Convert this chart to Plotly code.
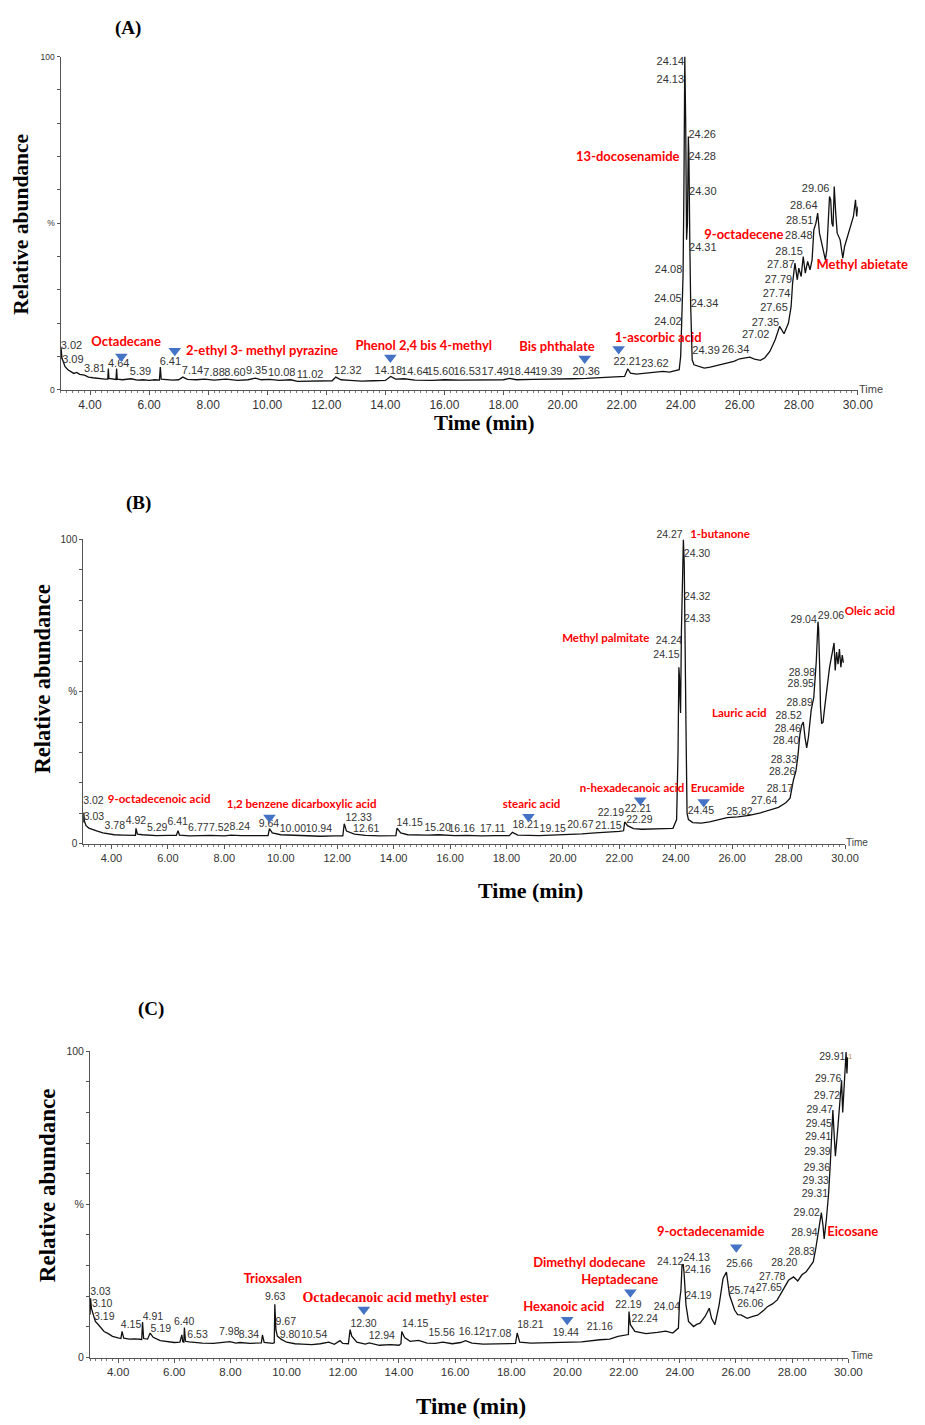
import plotly.graph_objects as go

# ---------------- Panel A data ----------------
a_time = [3.00, 3.02, 3.05, 3.09, 3.15, 3.25, 3.35, 3.45, 3.55, 3.65, 3.81, 3.95, 4.10, 4.30, 4.50, 4.60,
          4.62, 4.64, 4.80, 4.88, 4.90, 4.92, 5.10, 5.39, 5.60, 5.80, 6.00, 6.20, 6.35, 6.38, 6.41, 6.60,
          6.80, 7.00, 7.14, 7.30, 7.60, 7.88, 8.20, 8.60, 9.00, 9.35, 9.60, 9.80, 10.08, 10.40, 10.80, 11.02,
          11.40, 11.80, 12.20, 12.32, 12.50, 12.80, 13.20, 13.60, 14.00, 14.18, 14.35, 14.64, 15.00, 15.60,
          16.00, 16.53, 17.00, 17.49, 18.00, 18.20, 18.44, 19.00, 19.39, 19.80, 20.36, 20.80, 21.20, 21.60,
          21.95, 22.10, 22.21, 22.30, 22.50, 22.80, 23.10, 23.40, 23.62, 23.80, 23.95, 24.00, 24.02, 24.05,
          24.08, 24.11, 24.13, 24.14, 24.17, 24.20, 24.23, 24.26, 24.28, 24.30, 24.31, 24.34, 24.37, 24.39,
          24.45, 24.60, 24.80, 25.00, 25.20, 25.40, 25.60, 25.80, 26.00, 26.20, 26.34, 26.50, 26.70, 26.85,
          27.02, 27.20, 27.35, 27.50, 27.65, 27.74, 27.79, 27.87, 27.95, 28.00, 28.08, 28.15, 28.22, 28.30,
          28.38, 28.45, 28.48, 28.51, 28.58, 28.64, 28.70, 28.80, 28.90, 28.95, 29.00, 29.04, 29.08, 29.12,
          29.16, 29.20, 29.25, 29.30, 29.40, 29.49, 29.55, 29.65, 29.75, 29.85, 29.92, 29.96, 30.00]
a_abund = [9.0, 12.5, 9.5, 8.5, 7.0, 6.0, 5.4, 4.9, 5.2, 4.6, 4.4, 3.8, 3.6, 3.3, 3.2, 3.2,
           6.4, 3.4, 3.1, 3.1, 6.4, 3.2, 3.0, 3.3, 2.9, 3.0, 2.8, 3.0, 2.9, 6.8, 3.2, 3.0,
           2.9, 3.0, 3.8, 3.1, 3.0, 3.2, 2.9, 3.2, 2.8, 3.0, 3.5, 3.0, 3.1, 2.8, 3.0, 2.5,
           2.6, 2.7, 2.7, 3.8, 3.0, 2.8, 2.6, 2.7, 2.8, 4.0, 3.2, 3.3, 2.9, 2.8,
           3.0, 2.9, 2.9, 3.0, 3.0, 3.4, 3.0, 3.1, 3.1, 3.3, 3.3, 3.4, 3.6, 3.8,
           3.9, 4.0, 6.3, 5.0, 4.7, 4.9, 5.1, 5.5, 5.3, 5.6, 6.0, 10.0, 16.0, 25.0,
           34.0, 60.0, 85.0, 100.0, 80.0, 45.0, 50.0, 76.0, 70.0, 60.0, 44.0, 25.0, 12.0, 9.0,
           7.5, 7.0, 6.5, 6.8, 7.2, 7.8, 8.0, 8.5, 9.3, 9.5, 9.8, 9.2, 8.8, 9.6,
           11.5, 15.0, 19.0, 16.8, 20.0, 25.0, 32.0, 38.0, 33.0, 36.5, 34.0, 40.0, 35.0, 38.5,
           36.0, 39.0, 45.0, 48.0, 50.0, 53.0, 47.0, 43.0, 39.0, 42.0, 52.0, 58.0, 57.0, 50.0,
           49.0, 61.0, 53.0, 47.0, 45.0, 39.5, 43.0, 46.0, 49.0, 52.0, 57.0, 52.0, 55.0]

a_rt_text = ["3.02", "3.09", "3.81", "4.64", "5.39", "6.41", "7.14", "7.88", "8.60", "9.35", "10.08",
             "11.02", "12.32", "14.18", "14.64", "15.60", "16.53", "17.49", "18.44", "19.39", "20.36",
             "22.21", "23.62", "24.02", "24.05", "24.08", "24.13", "24.14", "24.26", "24.28", "24.30",
             "24.31", "24.34", "24.39", "26.34", "27.02", "27.35", "27.65", "27.74", "27.79", "27.87",
             "28.15", "28.48", "28.51", "28.64", "29.06"]
a_rt_x = [3.37, 3.42, 4.16, 4.97, 5.71, 6.72, 7.47, 8.20, 8.91, 9.64, 10.49,
          11.45, 12.73, 14.10, 15.00, 15.87, 16.77, 17.72, 18.64, 19.53, 20.80,
          22.19, 23.13, 23.57, 23.57, 23.59, 23.65, 23.65, 24.73, 24.73, 24.75,
          24.75, 24.81, 24.86, 25.86, 26.54, 26.87, 27.16, 27.25, 27.31, 27.39,
          27.67, 28.00, 28.03, 28.17, 28.57]
a_rt_y = [13.2, 8.7, 6.0, 7.5, 5.3, 8.2, 5.6, 4.9, 4.9, 5.6, 4.9,
          4.3, 5.5, 5.5, 5.2, 5.2, 5.2, 5.2, 5.2, 5.2, 5.3,
          8.2, 7.5, 20.4, 27.2, 35.8, 92.8, 98.3, 76.5, 69.8, 59.4,
          42.5, 25.6, 11.7, 12.0, 16.3, 20.1, 24.4, 28.7, 32.8, 37.5,
          41.3, 46.0, 50.5, 55.0, 60.3]

a_cmp_text = ["Octadecane", "2-ethyl 3- methyl pyrazine", "Phenol 2,4 bis 4-methyl", "Bis phthalate",
              "1-ascorbic acid", "13-docosenamide", "9-octadecene", "Methyl abietate"]
a_cmp_x = [5.22, 9.82, 15.30, 19.81, 23.24, 22.21, 26.14, 28.60]
a_cmp_y = [14.0, 11.4, 12.8, 12.7, 15.2, 69.5, 46.2, 37.3]

a_tri_x = [5.06, 6.87, 14.17, 20.75, 21.90]
a_tri_y = [10.0, 11.7, 9.7, 9.4, 12.2]

# ---------------- Panel B data ----------------
b_time = [3.00, 3.02, 3.04, 3.10, 3.20, 3.35, 3.50, 3.70, 3.90, 4.10, 4.40, 4.70, 4.85, 4.87, 4.92, 5.10,
          5.29, 5.60, 6.00, 6.30, 6.36, 6.41, 6.77, 7.20, 7.52, 8.00, 8.24, 8.60, 9.00, 9.40, 9.55, 9.60,
          9.70, 10.00, 10.40, 10.94, 11.40, 11.90, 12.20, 12.25, 12.33, 12.61, 13.00, 13.50, 14.00, 14.08,
          14.12, 14.25, 14.50, 15.00, 15.20, 15.60, 16.16, 16.60, 17.11, 17.60, 18.10, 18.21, 18.40, 18.80,
          19.15, 19.60, 20.00, 20.67, 21.15, 21.60, 22.00, 22.15, 22.19, 22.29, 22.50, 22.80, 23.20, 23.60,
          23.90, 24.03, 24.08, 24.11, 24.13, 24.15, 24.17, 24.20, 24.24, 24.27, 24.30, 24.32, 24.33, 24.36,
          24.40, 24.45, 24.60, 24.90, 25.20, 25.50, 25.82, 26.20, 26.60, 27.00, 27.30, 27.64, 27.90, 28.05,
          28.17, 28.26, 28.33, 28.40, 28.46, 28.52, 28.58, 28.64, 28.70, 28.80, 28.89, 28.95, 28.98, 29.04,
          29.06, 29.10, 29.13, 29.17, 29.22, 29.28, 29.38, 29.45, 29.55, 29.61, 29.65, 29.70, 29.75, 29.80,
          29.85, 29.90, 29.94]
b_abund = [7.0, 10.3, 7.5, 6.0, 5.2, 4.6, 4.2, 3.6, 3.3, 3.0, 2.9, 2.8, 2.8, 5.1, 3.2, 3.0,
           2.9, 2.7, 2.8, 2.8, 4.3, 2.9, 2.6, 2.7, 2.8, 2.6, 2.9, 2.7, 2.7, 2.6, 2.7, 5.0,
           3.6, 3.0, 2.8, 2.6, 2.5, 2.6, 2.6, 6.6, 4.2, 3.2, 2.8, 2.6, 2.5, 2.7,
           5.2, 3.6, 3.0, 2.8, 2.9, 3.0, 2.7, 2.8, 2.6, 2.7, 2.7, 3.8, 2.9, 2.8,
           2.7, 2.9, 3.0, 3.3, 3.6, 3.8, 4.1, 4.3, 7.2, 6.0, 5.0, 4.8, 4.8, 5.0,
           5.1, 8.0, 30.0, 58.0, 55.0, 48.0, 43.0, 70.0, 93.0, 100.0, 92.0, 80.0, 73.0, 40.0,
           10.0, 8.0, 7.0, 6.8, 7.2, 7.8, 8.6, 8.9, 9.4, 10.2, 11.0, 12.0, 13.5, 15.0,
           21.0, 24.0, 29.0, 36.0, 39.0, 40.0, 35.0, 31.5, 35.0, 44.0, 48.0, 55.0, 60.0, 73.0,
           71.0, 58.0, 45.0, 39.5, 40.0, 45.0, 53.0, 58.0, 63.0, 66.0, 57.0, 63.0, 59.0, 64.0,
           58.0, 62.0, 59.5]

b_rt_text = ["3.02", "3.03", "3.78", "4.92", "5.29", "6.41", "6.77", "7.52", "8.24", "9.64", "10.00",
             "10.94", "12.33", "12.61", "14.15", "15.20", "16.16", "17.11", "18.21", "19.15", "20.67",
             "21.15", "22.19", "22.21", "22.29", "24.15", "24.24", "24.27", "24.30", "24.32", "24.33",
             "24.45", "25.82", "27.64", "28.17", "28.26", "28.33", "28.40", "28.46", "28.52", "28.89",
             "28.95", "28.98", "29.04", "29.06"]
b_rt_x = [3.36, 3.38, 4.12, 4.87, 5.62, 6.35, 7.08, 7.82, 8.55, 9.58, 10.43,
          11.35, 12.76, 13.03, 14.57, 15.56, 16.41, 17.51, 18.68, 19.64, 20.62,
          21.61, 21.70, 22.66, 22.71, 23.67, 23.76, 23.78, 24.75, 24.76, 24.76,
          24.89, 26.26, 27.13, 27.69, 27.77, 27.83, 27.91, 27.97, 28.00, 28.39,
          28.43, 28.47, 28.53, 29.50]
b_rt_y = [14.1, 8.7, 5.6, 7.3, 5.1, 7.1, 5.1, 5.1, 5.4, 6.5, 4.9,
          4.9, 8.4, 4.7, 6.7, 5.0, 4.9, 4.9, 6.2, 4.7, 6.0,
          5.6, 10.0, 11.4, 7.6, 61.9, 66.4, 99.5, 95.2, 80.9, 73.8,
          10.8, 10.3, 14.1, 17.9, 23.4, 27.4, 33.6, 37.7, 41.8, 46.2,
          52.3, 56.1, 73.5, 74.6]

b_cmp_text = ["9-octadecenoic acid", "1,2 benzene dicarboxylic acid", "stearic acid", "n-hexadecanoic acid",
              "Erucamide", "Methyl palmitate", "1-butanone", "Lauric acid", "Oleic acid"]
b_cmp_x = [5.69, 10.74, 18.89, 22.45, 25.49, 21.52, 25.57, 26.25, 29.99]
b_cmp_y = [14.4, 12.8, 12.8, 17.9, 17.9, 67.3, 99.5, 42.6, 76.0]

b_tri_x = [9.60, 18.78, 22.74, 24.99]
b_tri_y = [8.7, 8.9, 14.3, 13.8]

# ---------------- Panel C data ----------------
c_time = [3.00, 3.02, 3.05, 3.10, 3.15, 3.19, 3.30, 3.40, 3.50, 3.65, 3.80, 4.00, 4.10, 4.14, 4.20, 4.40,
          4.60, 4.84, 4.87, 4.91, 5.05, 5.14, 5.25, 5.50, 5.80, 6.00, 6.20, 6.27, 6.30, 6.34, 6.36, 6.40,
          6.53, 6.80, 7.00, 7.40, 7.80, 7.98, 8.20, 8.34, 8.70, 9.10, 9.14, 9.20, 9.50, 9.56, 9.58, 9.62,
          9.67, 9.80, 10.00, 10.30, 10.54, 10.90, 11.20, 11.50, 11.70, 11.90, 12.00, 12.20, 12.26, 12.32,
          12.50, 12.80, 12.94, 13.30, 13.70, 14.00, 14.07, 14.10, 14.20, 14.40, 14.70, 15.00, 15.30, 15.56,
          15.90, 16.20, 16.37, 16.60, 17.00, 17.50, 18.15, 18.21, 18.30, 18.70, 19.20, 19.60, 20.00, 20.50,
          21.16, 21.50, 21.80, 22.10, 22.17, 22.19, 22.24, 22.40, 22.80, 23.20, 23.50, 23.75, 23.95, 23.99,
          24.04, 24.08, 24.12, 24.15, 24.19, 24.22, 24.31, 24.49, 24.60, 24.72, 24.90, 25.05, 25.13, 25.25,
          25.40, 25.54, 25.66, 25.77, 25.95, 26.06, 26.18, 26.40, 26.60, 26.77, 27.00, 27.12, 27.30, 27.47,
          27.64, 27.76, 27.87, 28.05, 28.20, 28.35, 28.50, 28.58, 28.70, 28.75, 28.84, 28.96, 29.04, 29.10,
          29.14, 29.22, 29.30, 29.36, 29.39, 29.45, 29.50, 29.54, 29.63, 29.71, 29.76, 29.80, 29.86, 29.92,
          29.95, 29.98]
c_abund = [14.0, 19.3, 16.0, 14.5, 12.5, 11.8, 10.7, 9.6, 8.5, 7.8, 6.9, 6.4, 6.2, 8.5, 6.3, 6.0,
           6.1, 5.9, 11.6, 6.2, 6.0, 8.0, 6.6, 5.5, 5.2, 4.9, 5.0, 7.4, 5.2, 5.0, 9.8, 5.3,
           5.1, 4.8, 4.7, 4.6, 4.9, 5.2, 4.7, 4.9, 4.6, 4.8, 7.4, 4.9, 4.6, 4.8, 17.4, 9.0,
           7.0, 6.0, 5.0, 4.5, 4.4, 4.2, 4.5, 5.0, 4.3, 5.5, 4.6, 4.5, 9.1, 7.0,
           5.0, 4.4, 4.8, 4.0, 4.2, 4.0, 4.5, 8.5, 6.5, 5.3, 5.6, 4.7, 4.6, 5.0,
           4.5, 4.9, 5.5, 4.7, 4.4, 4.5, 4.6, 8.0, 5.0, 4.7, 4.8, 4.7, 5.0, 5.1,
           5.8, 6.0, 6.9, 7.3, 7.5, 15.0, 10.7, 8.5, 7.8, 8.2, 8.6, 8.0, 9.6, 18.2,
           22.0, 30.1, 30.5, 27.9, 20.0, 17.2, 11.8, 10.1, 10.8, 11.2, 13.4, 16.1, 12.8, 10.7,
           17.2, 25.8, 27.9, 20.4, 15.5, 14.0, 13.9, 12.8, 13.4, 13.8, 15.5, 16.6, 17.5, 18.8,
           21.5, 23.6, 25.2, 26.3, 25.0, 27.0, 28.0, 29.0, 30.5, 31.2, 35.5, 43.0, 47.3, 43.0,
           38.7, 45.2, 53.8, 63.5, 70.0, 80.8, 72.0, 65.7, 75.4, 86.2, 90.5, 80.0, 91.0, 99.7,
           92.7, 98.0]

c_rt_text = ["3.03", "3.10", "3.19", "4.15", "4.91", "5.19", "6.40", "6.53", "7.98", "8.34", "9.63",
             "9.67", "9.80", "10.54", "12.30", "12.94", "14.15", "15.56", "16.12", "17.08", "18.21",
             "19.44", "21.16", "22.19", "22.24", "24.04", "24.12", "24.13", "24.16", "24.19", "25.66",
             "25.74", "26.06", "27.65", "27.78", "28.20", "28.83", "28.94", "29.02", "29.31", "29.33",
             "29.36", "29.39", "29.41", "29.45", "29.47", "29.72", "29.76", "29.91"]
c_rt_x = [3.37, 3.43, 3.51, 4.46, 5.24, 5.52, 6.35, 6.83, 7.96, 8.66, 9.59,
          9.97, 10.12, 10.98, 12.74, 13.39, 14.58, 15.52, 16.60, 17.53, 18.68,
          19.94, 21.15, 22.17, 22.75, 23.54, 23.66, 24.60, 24.64, 24.66, 26.12,
          26.21, 26.51, 27.17, 27.29, 27.72, 28.34, 28.44, 28.52, 28.81, 28.84,
          28.88, 28.90, 28.93, 28.95, 28.98, 29.24, 29.28, 29.43]
c_rt_y = [21.3, 17.4, 13.2, 10.5, 13.2, 9.1, 11.6, 7.2, 8.2, 7.2, 19.5,
          11.6, 7.2, 7.2, 10.9, 6.9, 10.9, 8.0, 8.3, 7.4, 10.5,
          8.0, 9.8, 16.9, 12.3, 16.3, 31.2, 32.5, 28.5, 20.1, 30.3,
          21.7, 17.2, 22.6, 26.3, 30.8, 34.4, 40.6, 47.0, 53.3, 57.6,
          61.7, 67.1, 71.8, 76.1, 80.8, 85.3, 90.8, 97.8]

c_cmp_text = ["Trioxsalen", "Hexanoic acid", "Heptadecane", "Dimethyl dodecane", "9-octadecenamide", "Eicosane"]
c_cmp_x = [9.51, 19.87, 21.86, 20.78, 25.10, 29.25]
c_cmp_y = [25.5, 16.1, 24.9, 30.6, 40.6, 40.6]

c_serif_text = ["Octadecanoic acid methyl ester"]
c_serif_x = [13.88]
c_serif_y = [19.3]

c_tri_x = [12.75, 19.99, 22.24, 26.01]
c_tri_y = [15.7, 12.3, 21.3, 36.0]

c_scan_text = ["1"]
c_scan_x = [29.99]
c_scan_y = [98.0]

x_tick_vals = list(range(4, 31))
x_tick_text = [f"{v:.2f}" if v % 2 == 0 else "" for v in x_tick_vals]
y_tick_vals = list(range(0, 101, 10))
y_tick_text = ["0", "", "", "", "", "%", "", "", "", "", "100"]

# ---------------- styling / layout ----------------
W, H = 925, 1425
boxes = {  # pixel boxes: (left, right, top, bottom)
    "A": (61.5, 872.0, 51.0, 387.0),
    "B": (84.6, 859.0, 538.0, 845.0),
    "C": (91.5, 862.3, 1054.0, 1363.0),
}

SANS = "Liberation Sans, Arial, sans-serif"
SERIF = "Liberation Serif, Times New Roman, serif"
BOLD_SANS = "Lato, Open Sans, sans-serif"
RED = "#FF0000"
BLUE = "#4472C4"

# label anchoring (labels at the plot edges are anchored by their left or bottom side)
a_cmp_pos = ["middle center"] * 7 + ["middle right"]
b_cmp_pos = ["middle center"] * 6 + ["top center", "middle center", "middle right"]
c_cmp_pos = ["middle center"] * 5 + ["middle right"]
b_rt_pos = ["middle center"] * len(b_rt_text)
b_rt_pos[b_rt_text.index("24.27")] = "top center"
a_rt_pos = ["middle center"] * len(a_rt_text)
c_rt_pos = ["middle center"] * len(c_rt_text)

fig = go.Figure()

panels = [
    ("", a_time, a_abund, a_rt_text, a_rt_x, a_rt_y, a_rt_pos, a_cmp_text, a_cmp_x, a_cmp_y, a_cmp_pos,
     a_tri_x, a_tri_y, 11, 13),
    ("2", b_time, b_abund, b_rt_text, b_rt_x, b_rt_y, b_rt_pos, b_cmp_text, b_cmp_x, b_cmp_y, b_cmp_pos,
     b_tri_x, b_tri_y, 10.5, 11.5),
    ("3", c_time, c_abund, c_rt_text, c_rt_x, c_rt_y, c_rt_pos, c_cmp_text, c_cmp_x, c_cmp_y, c_cmp_pos,
     c_tri_x, c_tri_y, 10.5, 13),
]

for (suf, t, ab, rtt, rtx, rty, rtp, ct, cx, cy, cp, tx, ty, rtsize, cmpsize) in panels:
    xa, ya = "x" + suf, "y" + suf
    fig.add_trace(go.Scatter(x=t, y=ab, mode="lines", xaxis=xa, yaxis=ya,
                             line=dict(color="#111111", width=1.3), cliponaxis=False,
                             showlegend=False, hoverinfo="skip"))
    fig.add_trace(go.Scatter(x=rtx, y=rty, mode="text", text=rtt, xaxis=xa, yaxis=ya,
                             textposition=rtp, cliponaxis=False,
                             textfont=dict(family=SANS, size=rtsize, color="#333333"),
                             showlegend=False, hoverinfo="skip"))
    fig.add_trace(go.Scatter(x=cx, y=cy, mode="text", text=ct, xaxis=xa, yaxis=ya,
                             textposition=cp, cliponaxis=False,
                             textfont=dict(family=BOLD_SANS, size=cmpsize, color=RED, weight="bold"),
                             showlegend=False, hoverinfo="skip"))
    fig.add_trace(go.Scatter(x=tx, y=ty, mode="markers", xaxis=xa, yaxis=ya, cliponaxis=False,
                             marker=dict(symbol="triangle-down", size=11, color=BLUE, line=dict(width=0)),
                             showlegend=False, hoverinfo="skip"))

fig.add_trace(go.Scatter(x=c_serif_x, y=c_serif_y, mode="text", text=c_serif_text, xaxis="x3", yaxis="y3",
                         textposition="middle center", cliponaxis=False,
                         textfont=dict(family=SERIF, size=14, color=RED, weight="bold"),
                         showlegend=False, hoverinfo="skip"))
fig.add_trace(go.Scatter(x=c_scan_x, y=c_scan_y, mode="text", text=c_scan_text, xaxis="x3", yaxis="y3",
                         textposition="middle right", cliponaxis=False,
                         textfont=dict(family=SANS, size=8, color="#C09050"),
                         showlegend=False, hoverinfo="skip"))

layout = dict(width=W, height=H, autosize=False, margin=dict(l=0, r=0, t=0, b=0, pad=0),
              paper_bgcolor="white", plot_bgcolor="white", showlegend=False)

tick_sizes = {"A": (12, 8.5), "B": (11, 10), "C": (11.5, 10.5)}
minor_vals = [round(3 + 0.2 * i, 2) for i in range(0, 136)]

for name, suf in [("A", ""), ("B", "2"), ("C", "3")]:
    l, r, tp, bt = boxes[name]
    xs, ys = tick_sizes[name]
    layout["xaxis" + suf] = dict(
        domain=[l / W, r / W], range=[3, 30], anchor="y" + suf,
        showline=True, linecolor="#555555", linewidth=1, showgrid=False, zeroline=False,
        tickmode="array", tickvals=x_tick_vals, ticktext=x_tick_text,
        ticks="outside", ticklen=4, tickcolor="#555555", tickwidth=1,
        tickfont=dict(family=SANS, size=xs, color="#333333"),
        minor=dict(tickmode="array", tickvals=minor_vals, ticks="outside", ticklen=2,
                   tickcolor="#777777", tickwidth=1),
        fixedrange=True)
    layout["yaxis" + suf] = dict(
        domain=[1 - bt / H, 1 - tp / H], range=[0, 100], anchor="x" + suf,
        showline=True, linecolor="#555555", linewidth=1, showgrid=False, zeroline=False,
        tickmode="array", tickvals=y_tick_vals, ticktext=y_tick_text,
        ticks="outside", ticklen=3, tickcolor="#555555", tickwidth=1,
        tickfont=dict(family=SANS, size=ys, color="#333333"),
        fixedrange=True)


def pann(text, px, py, size, family, color="#000000", angle=0, bold=False):
    return dict(text=f"<b>{text}</b>" if bold else text, x=px / W, y=1 - py / H,
                xref="paper", yref="paper", xanchor="center", yanchor="middle",
                showarrow=False, textangle=angle,
                font=dict(family=family, size=size, color=color))


layout["annotations"] = [
    pann("(A)", 130, 22, 19, SERIF, bold=True),
    pann("(B)", 141, 501, 19, SERIF, bold=True),
    pann("(C)", 153, 1012, 19, SERIF, bold=True),
    pann("Relative abundance", 21, 220, 21.5, SERIF, angle=-90, bold=True),
    pann("Relative abundance", 43, 679, 22.5, SERIF, angle=-90, bold=True),
    pann("Relative abundance", 49, 1189, 23, SERIF, angle=-90, bold=True),
    pann("Time (min)", 492, 421, 21, SERIF, bold=True),
    pann("Time (min)", 539, 892, 22, SERIF, bold=True),
    pann("Time (min)", 479, 1412, 23, SERIF, bold=True),
    pann("Time", 885, 386, 11, SANS, color="#444444"),
    pann("Time", 871, 844, 10, SANS, color="#444444"),
    pann("Time", 876, 1361, 10, SANS, color="#444444"),
]

fig.update_layout(**layout)
fig.write_html("out.html", config={"displayModeBar": False},
               post_script="document.body.style.margin='0';document.body.style.overflow='hidden';"
                           "document.documentElement.style.overflow='hidden';")
